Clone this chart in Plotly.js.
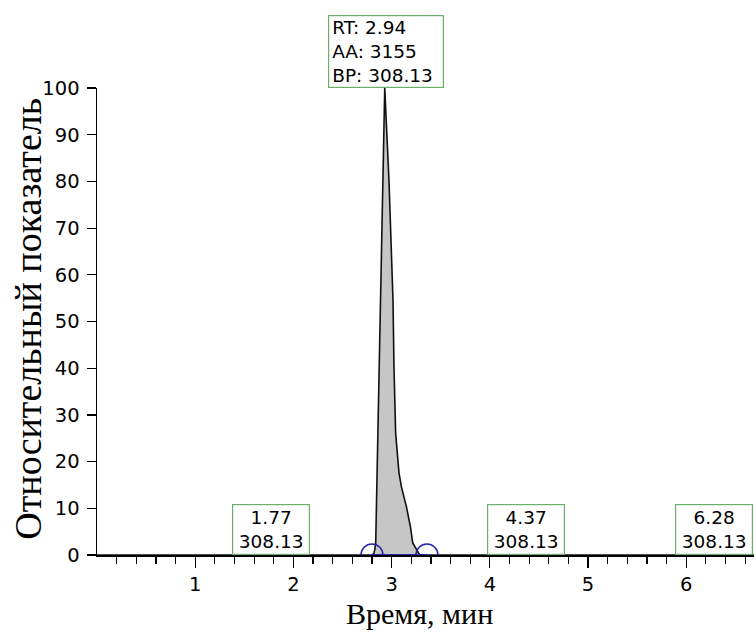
<!DOCTYPE html>
<html>
<head>
<meta charset="utf-8">
<script src="https://cdn.plot.ly/plotly-3.0.1.min.js"></script>
<style>html,body{margin:0;padding:0;background:#fff;}#chart{width:754px;height:634px;}</style>
</head>
<body>
<div id="chart"></div>
<script>
// Chromatogram trace (time, min / relative abundance, %)
const timeMin = [0, 2.60, 2.80, 2.818, 2.828, 2.838, 2.851, 2.861, 2.871, 2.886, 2.906, 2.93, 2.973, 3.014, 3.024, 3.041, 3.075, 3.100, 3.151, 3.191, 3.215, 3.253, 3.286, 3.40, 6.69];
const relAbund = [0, 0, 0, 0.3, 1.1, 2.6, 17.6, 26.1, 40.3, 54.6, 80.3, 100, 80.3, 54.6, 40.3, 26.1, 17.6, 14.6, 10.3, 6.1, 2.6, 1.1, 0, 0, 0];

// Integration boundaries (peak start / end markers)
const peakBounds = [2.80, 3.36];
const boundLevel = [0, 0];

// Labelled peaks
const mainPeakRT = 2.94;
const mainPeakArea = 3155;
const mainPeakBP = "308.13";
const minorPeakRT = [1.77, 4.37, 6.28];
const minorPeakBP = ["308.13", "308.13", "308.13"];

// Axis ticks and titles
const xTickVals = [1, 2, 3, 4, 5, 6];
const yTickVals = [0, 10, 20, 30, 40, 50, 60, 70, 80, 90, 100];
const xTitle = 'Время, мин';
const yTitle = 'Относительный показатель';

const xMinor = [];
for (let i = 1; i <= 33; i++) { const v = Math.round(i * 2) / 10; if (Math.abs(v - Math.round(v)) > 1e-6) xMinor.push(v); }

const green = '#6cae6c';
const sans = 'DejaVu Sans, Verdana, sans-serif';
const serif = 'Liberation Serif, Times New Roman, serif';
const annFont = {family: sans, size: 18.5, color: '#000'};

const annotations = [{
  x: mainPeakRT, y: 100, xref: 'x', yref: 'y', xanchor: 'center', yanchor: 'bottom',
  showarrow: false, align: 'left', width: 108, height: 65,
  text: 'RT: ' + mainPeakRT.toFixed(2) + '<br>AA: ' + mainPeakArea + '<br>BP: ' + mainPeakBP,
  bordercolor: green, borderwidth: 1.2, borderpad: 3, bgcolor: '#fff', font: annFont
}];
minorPeakRT.forEach((rt, i) => {
  annotations.push({
    x: rt, y: 0, xref: 'x', yref: 'y', xanchor: 'center', yanchor: 'bottom',
    showarrow: false, align: 'center', width: 70, height: 43,
    text: rt.toFixed(2) + '<br>' + minorPeakBP[i],
    bordercolor: green, borderwidth: 1.2, borderpad: 3, bgcolor: '#fff', font: annFont
  });
});
// axis titles
annotations.push({
  x: 0, y: 0.506, xref: 'paper', yref: 'paper', xanchor: 'center', yanchor: 'middle',
  xshift: -69, textangle: -90, showarrow: false, text: yTitle,
  font: {family: serif, size: 38, color: '#000'}
});
annotations.push({
  x: 0.5, y: 0, xref: 'paper', yref: 'paper', xanchor: 'center', yanchor: 'middle',
  xshift: -6, yshift: -58, showarrow: false, text: xTitle,
  font: {family: serif, size: 30, color: '#000'}
});

const traces = [
  {
    x: timeMin, y: relAbund, type: 'scatter', mode: 'lines',
    line: {color: '#111', width: 1.6}, fill: 'tozeroy', fillcolor: '#c6c6c6',
    hoverinfo: 'skip'
  },
  {
    x: peakBounds, y: boundLevel, type: 'scatter', mode: 'lines+markers',
    line: {color: '#2525a8', width: 2},
    marker: {symbol: 'circle-open', size: 22, color: '#2525a8', line: {width: 1.5, color: '#2525a8'}},
    hoverinfo: 'skip'
  }
];

const layout = {
  width: 754, height: 634,
  margin: {l: 97, r: 0, t: 88, b: 79, pad: 0},
  paper_bgcolor: '#fff', plot_bgcolor: '#fff',
  showlegend: false,
  font: {family: sans, color: '#000'},
  xaxis: {
    range: [0, 6.69], showgrid: false, zeroline: false,
    showline: true, linecolor: '#000', linewidth: 1.5,
    tickmode: 'array', tickvals: xTickVals, ticktext: xTickVals.map(String),
    ticks: 'outside', ticklen: 11, tickwidth: 1.2, tickcolor: '#000',
    tickfont: {family: sans, size: 19.5, color: '#000'},
    minor: {tickmode: 'array', tickvals: xMinor, ticks: 'outside', ticklen: 7, tickwidth: 1.2, tickcolor: '#000', showgrid: false}
  },
  yaxis: {
    range: [0, 100], showgrid: false, zeroline: false,
    showline: true, linecolor: '#000', linewidth: 1.5,
    tickmode: 'array', tickvals: yTickVals,
    ticks: 'outside', ticklen: 9, tickwidth: 1.2, tickcolor: '#000',
    ticklabelstandoff: 3,
    tickfont: {family: sans, size: 19.5, color: '#000'}
  },
  annotations: annotations
};

Plotly.newPlot('chart', traces, layout, {displayModeBar: false, staticPlot: true});
</script>
</body>
</html>
